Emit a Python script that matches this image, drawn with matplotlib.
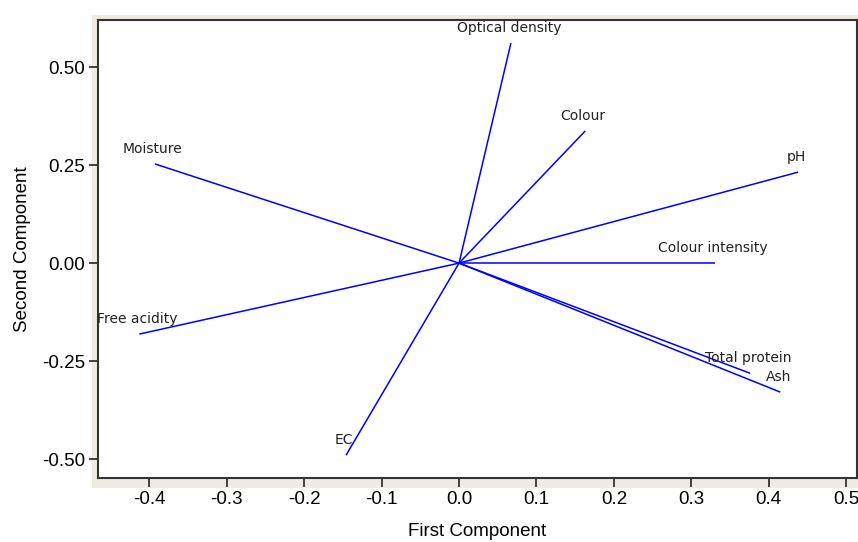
import matplotlib
matplotlib.use('Agg')
from matplotlib import pyplot as plt
from matplotlib.patches import Rectangle

# loadings of the first two principal components
variables = ['Optical density', 'Colour', 'pH', 'Colour intensity', 'Total protein',
             'Ash', 'EC', 'Free acidity', 'Moisture']
pc1 = [0.067, 0.163, 0.438, 0.331, 0.376, 0.415, -0.146, -0.413, -0.393]
pc2 = [0.561, 0.337, 0.232, 0.000, -0.281, -0.329, -0.490, -0.181, 0.253]

xticks = [-0.4, -0.3, -0.2, -0.1, 0.0, 0.1, 0.2, 0.3, 0.4, 0.5]
yticks = [-0.50, -0.25, 0.00, 0.25, 0.50]

axis_font = 'Liberation Sans'
label_font = 'DejaVu Sans'

if __name__ == "__main__":
    fig = plt.figure(figsize=(8.58, 5.42), dpi=100)
    # beige panel behind the plot frame
    fig.patches.append(Rectangle((0.1072, 0.0996), 0.8928, 0.8727, transform=fig.transFigure,
                                 facecolor='#efebe2', edgecolor='none', zorder=-1))
    ax = fig.add_axes([0.1142, 0.1181, 0.8846, 0.845])
    ax.set_facecolor('white')

    for name, x, y in zip(variables, pc1, pc2):
        ax.plot([0, x], [0, y], color='#0000ff', lw=1.1, solid_capstyle='butt')
        ax.annotate(name, (x, y), xytext=(-1.5, 11), textcoords='offset points',
                    ha='center', va='center', fontsize=10, family=label_font, color='#222222')

    ax.set_xlim(-0.4664, 0.514)
    ax.set_ylim(-0.548, 0.62)
    ax.set_xticks(xticks)
    ax.set_xticklabels(['%.1f' % t for t in xticks], family=axis_font, fontsize=13.5)
    ax.set_yticks(yticks)
    ax.set_yticklabels(['%.2f' % t for t in yticks], family=axis_font, fontsize=13.5)
    ax.tick_params(direction='out', length=6.5, width=1.3, color='#333333', pad=3)

    for s in ax.spines.values():
        s.set_linewidth(1.5)
        s.set_color('#333333')

    ax.set_xlabel('First Component', family=axis_font, fontsize=13.5, labelpad=11)
    ax.set_ylabel('Second Component', family=axis_font, fontsize=13.5, labelpad=8)

    plt.savefig('out.png', dpi=100)
